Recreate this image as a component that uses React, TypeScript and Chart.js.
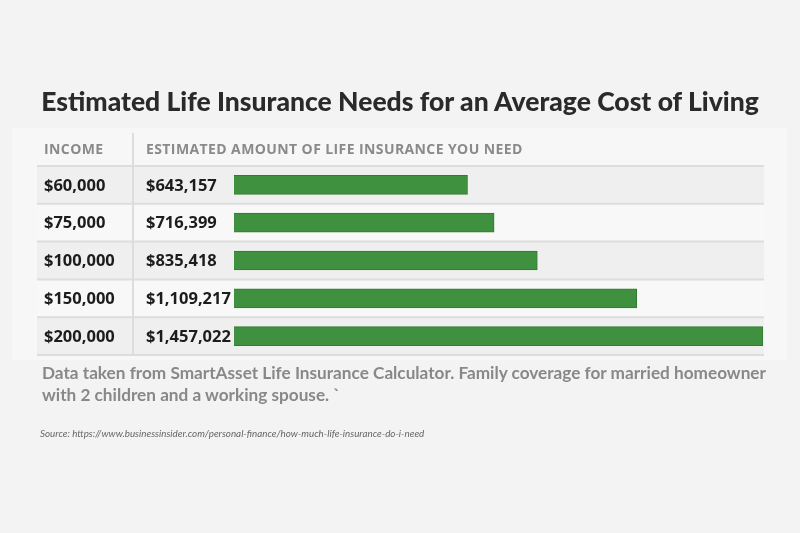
import React, { useEffect, useRef } from "react";
import { Chart, registerables } from "chart.js";

Chart.register(...registerables);

const incomes = ["$60,000", "$75,000", "$100,000", "$150,000", "$200,000"];
const amounts = [643157, 716399, 835418, 1109217, 1457022];
const amountLabels = ["$643,157", "$716,399", "$835,418", "$1,109,217", "$1,457,022"];
const headerIncome = "INCOME";
const headerAmount = "ESTIMATED AMOUNT OF LIFE INSURANCE YOU NEED";
const titleText = "Estimated Life Insurance Needs for an Average Cost of Living";
const noteText = "Data taken from SmartAsset Life Insurance Calculator. Family coverage for married homeowner with 2 children and a working spouse. `";
const sourceText = "Source: https://www.businessinsider.com/personal-finance/how-much-life-insurance-do-i-need";

const tablePlugin = {
  id: "tablePlugin",
  beforeDatasetsDraw(chart: any) {
    const { ctx, chartArea, scales } = chart;
    const y = scales.y;
    const left = 37;
    const right = 764;
    const n = incomes.length;
    const rowH = (chartArea.bottom - chartArea.top) / n;
    ctx.save();
    ctx.fillStyle = "#f7f7f7";
    ctx.fillRect(12, 128, 775, 232);
    for (let i = 0; i < n; i++) {
      const cy = y.getPixelForValue(i);
      const top = cy - rowH / 2;
      ctx.fillStyle = i % 2 === 0 ? "#efefef" : "#f8f8f8";
      ctx.fillRect(left, top, right - left, rowH);
    }
    ctx.strokeStyle = "#dddddd";
    ctx.lineWidth = 2;
    for (let i = 0; i <= n; i++) {
      const yy = chartArea.top + i * rowH;
      ctx.beginPath();
      ctx.moveTo(left, yy);
      ctx.lineTo(right, yy);
      ctx.stroke();
    }
    ctx.beginPath();
    ctx.moveTo(133, 133);
    ctx.lineTo(133, chartArea.bottom);
    ctx.stroke();
    ctx.restore();
  },
  afterDraw(chart: any) {
    const { ctx, scales } = chart;
    const y = scales.y;
    ctx.save();
    ctx.textBaseline = "middle";
    ctx.textAlign = "left";
    ctx.fillStyle = "#8a8a8a";
    ctx.font = "bold 14px 'Open Sans'";
    (ctx as any).letterSpacing = "0.4px";
    ctx.fillText(headerIncome, 44, 150);
    ctx.fillText(headerAmount, 146, 150);
    (ctx as any).letterSpacing = "0px";
    ctx.fillStyle = "#1c1c1c";
    ctx.font = "bold 16.5px 'Open Sans'";
    for (let i = 0; i < incomes.length; i++) {
      const cy = y.getPixelForValue(i) + 1;
      ctx.fillText(incomes[i], 44, cy);
      ctx.fillText(amountLabels[i], 146, cy);
    }
    ctx.restore();
  },
};

export default function App() {
  const ref = useRef<HTMLCanvasElement>(null);
  useEffect(() => {
    document.body.style.margin = "0";
    const chart = new Chart(ref.current!, {
      type: "bar",
      data: {
        labels: incomes,
        datasets: [
          {
            data: amounts,
            backgroundColor: "#3f9140",
            borderColor: "#327a33",
            borderWidth: 1,
            barThickness: 19,
          },
        ],
      },
      options: {
        indexAxis: "y",
        animation: false,
        responsive: false,
        maintainAspectRatio: false,
        layout: { padding: { left: 234, right: 37, top: 166, bottom: 178 } },
        plugins: { legend: { display: false }, tooltip: { enabled: false }, title: { display: false } },
        scales: {
          x: { display: false, min: 0, max: 1457022 },
          y: { display: false },
        },
      },
      plugins: [tablePlugin],
    });
    return () => chart.destroy();
  }, []);
  return (
    <div style={{ position: "fixed", left: 0, top: 0, width: 800, height: 533, background: "#f3f3f3", overflow: "hidden" }}>
      <canvas ref={ref} width={800} height={533} style={{ position: "absolute", left: 0, top: 0 }} />
      <div
        style={{
          position: "absolute",
          left: 0,
          width: 800,
          top: 85,
          textAlign: "center",
          fontFamily: "Lato",
          fontWeight: 900,
          fontSize: 26.5,
          color: "#2a2a2a",
          whiteSpace: "nowrap",
        }}
      >
        {titleText}
      </div>
      <div
        style={{
          position: "absolute",
          left: 42,
          width: 740,
          top: 362,
          fontFamily: "Lato",
          fontWeight: 700,
          fontSize: 17.2,
          lineHeight: "22px",
          color: "#888888",
        }}
      >
        {noteText}
      </div>
      <div
        style={{
          position: "absolute",
          left: 40,
          top: 427,
          fontFamily: "Lato",
          fontStyle: "italic",
          fontSize: 9.8,
          color: "#666666",
          whiteSpace: "nowrap",
        }}
      >
        {sourceText}
      </div>
    </div>
  );
}
